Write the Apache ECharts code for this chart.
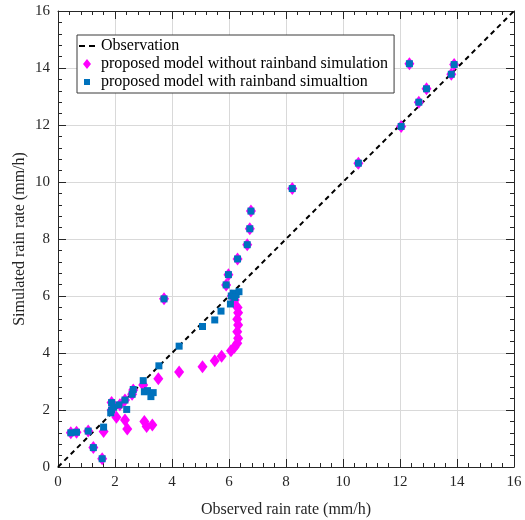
<!DOCTYPE html>
<html>
<head>
<meta charset="utf-8">
<script src="https://cdn.jsdelivr.net/npm/echarts@6/dist/echarts.min.js"></script>
<style>
  html, body { margin: 0; padding: 0; background: #fff; }
  #chart { width: 525px; height: 520px; }
</style>
</head>
<body>
<div id="chart"></div>
<script>
// Observed vs simulated rain rate (mm/h)
var axisTicks = [0, 2, 4, 6, 8, 10, 12, 14, 16];

var observationLine = [[0, 0], [16, 16]];

var withoutRainband = [
  [0.45, 1.2], [0.65, 1.22], [1.06, 1.26], [1.24, 0.68], [1.55, 0.29], [1.6, 1.25],
  [1.88, 2.0], [1.88, 2.26], [1.95, 2.1], [2.05, 1.75], [2.17, 2.18], [2.35, 2.35],
  [2.35, 1.65], [2.43, 1.33], [2.6, 2.55], [2.64, 2.7], [2.99, 2.88], [3.03, 1.6],
  [3.11, 1.42], [3.31, 1.47], [3.52, 3.1], [3.72, 5.9], [4.25, 3.33], [5.07, 3.52],
  [5.5, 3.73], [5.74, 3.89], [6.07, 4.08], [6.19, 4.2], [6.29, 4.34], [6.32, 4.52],
  [6.29, 4.75], [6.32, 4.98], [6.29, 5.18], [6.32, 5.41], [6.3, 5.6], [6.2, 5.86],
  [6.1, 6.0], [5.9, 6.39], [5.98, 6.75], [6.3, 7.3], [6.64, 7.8], [6.73, 8.36],
  [6.77, 8.98], [8.22, 9.77], [10.54, 10.66], [12.04, 11.95], [12.66, 12.8],
  [12.93, 13.27], [12.33, 14.15], [13.8, 13.78], [13.9, 14.12]
];

var withRainband = [
  [0.45, 1.2], [0.65, 1.22], [1.06, 1.26], [1.24, 0.68], [1.55, 0.29], [1.6, 1.4],
  [1.85, 1.9], [1.88, 2.0], [1.88, 2.26], [1.95, 2.1], [2.14, 2.18], [2.35, 2.35],
  [2.41, 2.02], [2.6, 2.55], [2.64, 2.72], [2.99, 3.03], [3.03, 2.64], [3.14, 2.68],
  [3.26, 2.47], [3.34, 2.61], [3.54, 3.55], [3.72, 5.9], [4.25, 4.24], [5.07, 4.93],
  [5.5, 5.16], [5.72, 5.47], [6.05, 5.72], [6.08, 6.0], [6.15, 6.1], [6.25, 6.05],
  [6.35, 6.15], [6.2, 5.95], [5.9, 6.39], [5.98, 6.75], [6.3, 7.3], [6.64, 7.8],
  [6.73, 8.36], [6.77, 8.98], [8.22, 9.77], [10.54, 10.66], [12.04, 11.95],
  [12.66, 12.8], [12.93, 13.27], [12.33, 14.15], [13.8, 13.78], [13.9, 14.12]
];

var FONT = 'Liberation Serif';
var INK = '#262626';
var axisMin = axisTicks[0];
var axisMax = axisTicks[axisTicks.length - 1];
var axisStep = axisTicks[1] - axisTicks[0];

// Legend glyphs: near-invisible corner specks keep the path bounds at 20x10,
// so the marker keeps its own small size inside the legend slot.
var FRAME = 'M0,0h0.01v0.01h-0.01z M19.99,9.99h0.01v0.01h-0.01z ';
var ICON_DASH = 'path://' + FRAME + 'M1,4h6v2h-6z M11,4h6v2h-6z';
var ICON_DIAMOND = 'path://' + FRAME + 'M9,0L13,5L9,10L5,5Z';
var ICON_SQUARE = 'path://' + FRAME + 'M6,2h6v6h-6z';

function makeAxis(position, showLabels, name) {
  return {
    type: 'value',
    position: position,
    min: axisMin,
    max: axisMax,
    interval: axisStep,
    name: name || '',
    nameLocation: 'middle',
    nameGap: position === 'left' ? 30 : 35,
    nameMoveOverlap: false,
    nameTextStyle: { fontFamily: FONT, fontSize: 16, color: INK },
    axisLine: { show: true, onZero: false, lineStyle: { color: INK, width: 1 } },
    axisTick: { show: true, inside: true, length: 8, lineStyle: { color: INK } },
    minorTick: { show: true, splitNumber: 5, length: 4, lineStyle: { color: INK } },
    axisLabel: { show: showLabels, fontFamily: FONT, fontSize: 15, color: INK, margin: 8 },
    splitLine: { show: showLabels, lineStyle: { color: '#d9d9d9', width: 1 } }
  };
}

var chart = echarts.init(document.getElementById('chart'), null, { renderer: 'canvas' });

chart.setOption({
  animation: false,
  backgroundColor: '#fff',
  grid: { left: 58, right: 11, top: 11, bottom: 53, containLabel: false, outerBoundsMode: 'none' },
  xAxis: [
    makeAxis('bottom', true, 'Observed rain rate (mm/h)'),
    makeAxis('top', false)
  ],
  yAxis: [
    makeAxis('left', true, 'Simulated rain rate (mm/h)'),
    makeAxis('right', false)
  ],
  legend: {
    orient: 'vertical',
    left: 77,
    top: 35,
    padding: [3, 6, 3, 1],
    itemGap: 2,
    itemWidth: 20,
    itemHeight: 10,
    backgroundColor: '#fff',
    borderColor: '#3a3a3a',
    borderWidth: 1,
    borderRadius: 0,
    textStyle: { fontFamily: FONT, fontSize: 16, color: '#000', padding: [0, 0, 0, -2] },
    data: [
      { name: 'Observation', icon: ICON_DASH, itemStyle: { color: '#000' } },
      { name: 'proposed model without rainband simulation', icon: ICON_DIAMOND },
      { name: 'proposed model with rainband simualtion', icon: ICON_SQUARE }
    ]
  },
  series: [
    {
      name: 'Observation',
      type: 'line',
      data: observationLine,
      symbol: 'none',
      z: 1,
      lineStyle: { color: '#000', width: 2, type: [5, 4] },
      itemStyle: { color: '#000' }
    },
    {
      name: 'proposed model without rainband simulation',
      type: 'scatter',
      data: withoutRainband,
      symbol: 'diamond',
      symbolSize: [10, 13],
      z: 2,
      itemStyle: { color: '#ff00ff', opacity: 1 }
    },
    {
      name: 'proposed model with rainband simualtion',
      type: 'scatter',
      data: withRainband,
      symbol: 'rect',
      symbolSize: 7,
      z: 3,
      itemStyle: { color: '#0072bd', opacity: 1 }
    }
  ]
});
</script>
</body>
</html>
